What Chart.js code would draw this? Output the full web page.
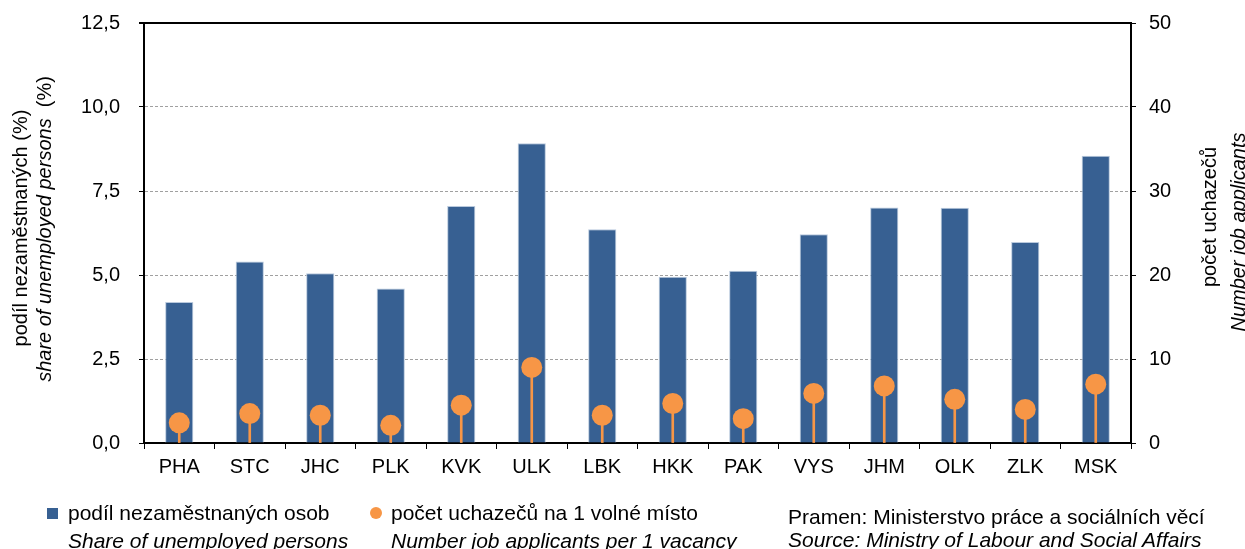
<!DOCTYPE html>
<html>
<head>
<meta charset="utf-8">
<script src="https://cdn.jsdelivr.net/npm/chart.js@4/dist/chart.umd.min.js"></script>
<style>
	body { margin: 0; background: #fff; font-family: "Liberation Sans", Arial, sans-serif; color: #000; }
	#wrap { position: relative; width: 1245px; height: 549px; overflow: hidden; }
	#graf { position: absolute; left: 0; top: 0; }
	.txt { position: absolute; font-size: 21px; line-height: 24px; white-space: nowrap; }
	.rot { position: absolute; width: 440px; height: 24px; line-height: 24px; font-size: 20px; text-align: center; transform: rotate(-90deg); white-space: nowrap; }
	.it { font-style: italic; }
	.ctverec { position: absolute; width: 11px; height: 11px; background: #376092; }
	.kolecko { position: absolute; width: 12px; height: 12px; border-radius: 50%; background: #f79646; }
</style>
</head>
<body>
<div id="wrap">
	<canvas id="graf" width="1245" height="549"></canvas>

	<div class="rot" style="left:-200px; top:216px;">podíl nezaměstnaných (%)</div>
	<div class="rot" style="left:-176px; top:217px;"><span class="it">share of unemployed persons</span>&nbsp; (%)</div>
	<div class="rot" style="left:989px; top:205px;">počet uchazečů</div>
	<div class="rot it" style="left:1018px; top:220px;">Number job applicants</div>

	<div class="ctverec" style="left:47px; top:508px;"></div>
	<div class="txt" style="left:68px; top:501px;">podíl nezaměstnaných osob</div>
	<div class="txt it" style="left:68px; top:529px;">Share of unemployed persons</div>

	<div class="kolecko" style="left:370px; top:507px;"></div>
	<div class="txt" style="left:391px; top:501px;">počet uchazečů na 1 volné místo</div>
	<div class="txt it" style="left:391px; top:529px;">Number job applicants per 1 vacancy</div>

	<div class="txt" style="left:788px; top:505px;">Pramen: Ministerstvo práce a sociálních věcí</div>
	<div class="txt it" style="left:788px; top:528px;">Source: Ministry of Labour and Social Affairs</div>
</div>

<script>
const regiony = ["PHA", "STC", "JHC", "PLK", "KVK", "ULK", "LBK", "HKK", "PAK", "VYS", "JHM", "OLK", "ZLK", "MSK"];
// podíl nezaměstnaných osob (%)
const podilNezam = [4.20, 5.40, 5.05, 4.60, 7.05, 8.92, 6.36, 4.95, 5.13, 6.21, 7.01, 7.00, 5.98, 8.55];
// počet uchazečů na 1 volné místo
const uchazeci = [2.4, 3.5, 3.3, 2.1, 4.5, 9.0, 3.3, 4.7, 2.9, 5.9, 6.8, 5.2, 4.0, 7.0];

const levaOsa = { min: 0, max: 12.5, krok: 2.5 };
const pravaOsa = { min: 0, max: 50, krok: 10 };

const modra = "#376092";
const oranzova = "#f79646";
const pismo = { family: "'Liberation Sans', Arial, sans-serif", size: 20 };

let ctx = document.getElementById("graf");
let graf = new Chart(ctx, {
	type: "bar",
	data: {
		labels: regiony,
		datasets: [
			{
				label: "podíl nezaměstnaných osob",
				data: podilNezam,
				yAxisID: "y",
				backgroundColor: modra,
				borderColor: "#b9c9dd",
				borderWidth: { top: 1, left: 1, right: 1, bottom: 0 },
				borderSkipped: "bottom",
				barPercentage: 0.4,
				categoryPercentage: 1,
				order: 3,
			},
			{
				label: "stonek",
				data: uchazeci,
				yAxisID: "y2",
				backgroundColor: oranzova,
				barThickness: 2,
				grouped: false,
				order: 2,
			},
			{
				type: "line",
				label: "počet uchazečů na 1 volné místo",
				data: uchazeci,
				yAxisID: "y2",
				showLine: false,
				pointRadius: 10.5,
				pointBackgroundColor: oranzova,
				pointBorderWidth: 0,
				order: 1,
			},
		],
	},
	options: {
		responsive: false,
		animation: false,
		layout: { padding: { top: 23, left: 0, right: 0, bottom: 0 } },
		plugins: {
			legend: { display: false },
			tooltip: { enabled: false },
		},
		scales: {
			x: {
				offset: true,
				grid: {
					offset: true,
					drawOnChartArea: false,
					tickLength: 6,
					color: "#000",
					lineWidth: 1,
				},
				border: { color: "#000", width: 2 },
				ticks: { color: "#000", font: pismo, padding: 6 },
				afterFit: (s) => {
					s.height = 106;
					s.paddingLeft = 0;
					s.paddingRight = 0;
				},
			},
			y: {
				position: "left",
				min: levaOsa.min,
				max: levaOsa.max,
				grid: {
					color: (c) => {
						if (!c.tick) return "#000";
						if (c.tick.value === levaOsa.max) return "#000";
						if (c.tick.value === 0) return "rgba(0,0,0,0)";
						return "#a0a0a0";
					},
					lineWidth: (c) => (c.tick && c.tick.value === levaOsa.max ? 2 : 1),
					tickColor: "#000",
					tickLength: 5,
				},
				border: {
					color: "#000",
					width: 2,
					dash: (c) => (c.tick && c.tick.value !== levaOsa.max ? [3, 2] : []),
				},
				ticks: {
					stepSize: levaOsa.krok,
					color: "#000",
					font: pismo,
					padding: 19,
					callback: (v) => v.toFixed(1).replace(".", ","),
				},
				afterFit: (s) => {
					s.width = 144;
					s.paddingTop = 0;
					s.paddingBottom = 0;
				},
			},
			y2: {
				position: "right",
				min: pravaOsa.min,
				max: pravaOsa.max,
				grid: {
					drawOnChartArea: false,
					color: "#000",
					tickColor: "#000",
					tickLength: 5,
				},
				border: { color: "#000", width: 2 },
				ticks: {
					stepSize: pravaOsa.krok,
					color: "#000",
					font: pismo,
					padding: 13,
				},
				afterFit: (s) => {
					s.width = 114;
					s.paddingTop = 0;
					s.paddingBottom = 0;
				},
			},
		},
	},
});
</script>
</body>
</html>
